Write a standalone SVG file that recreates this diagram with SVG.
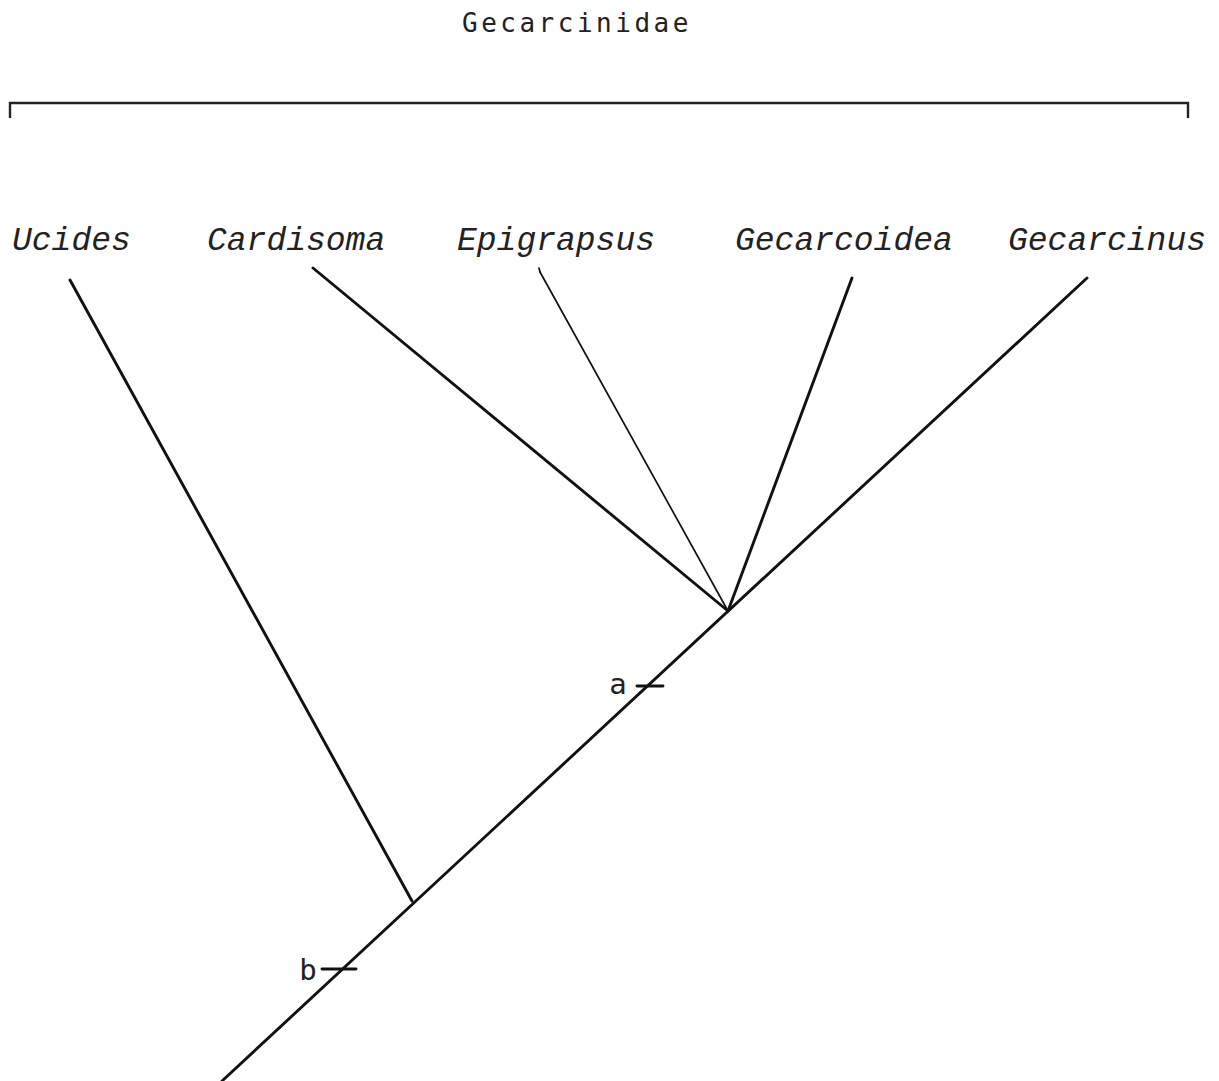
<svg xmlns="http://www.w3.org/2000/svg" width="1219" height="1081" viewBox="0 0 1219 1081">
<style>
.taxon{font-family:"Liberation Mono","Courier New",monospace;font-style:italic;font-size:33px;fill:#222}
.title{font-family:"DejaVu Sans Mono","Liberation Mono",monospace;font-size:26px;letter-spacing:3.5px;fill:#222}
.mark{font-family:"DejaVu Sans Mono","Liberation Mono",monospace;font-size:29px;fill:#222}
.ln{stroke:#111;stroke-width:2.9;fill:none;stroke-linecap:round}
.thin{stroke:#111;stroke-width:1.7;fill:none;stroke-linecap:round}
.br{stroke:#222;stroke-width:2.4;fill:none}
</style>
<rect width="1219" height="1081" fill="#ffffff"/>
<g id="title">
<text class="title" x="462" y="32">Gecarcinidae</text>
<polyline class="br" points="10,118 10,103 1188,103 1188,118"/>
</g>
<g id="node-ucides"><text class="taxon" x="12" y="250">Ucides</text></g>
<g id="node-cardisoma"><text class="taxon" x="207" y="250">Cardisoma</text></g>
<g id="node-epigrapsus"><text class="taxon" x="457" y="250">Epigrapsus</text></g>
<g id="node-gecarcoidea"><text class="taxon" x="735" y="250">Gecarcoidea</text></g>
<g id="node-gecarcinus"><text class="taxon" x="1008" y="250">Gecarcinus</text></g>
<g id="connectors">
<line class="ln" x1="70" y1="280" x2="412" y2="901"/>
<line class="ln" x1="313" y1="268" x2="728" y2="611"/>
<line class="thin" x1="540" y1="272" x2="728" y2="611"/>
<path class="thin" d="M540,272 L539,268"/>
<line class="ln" x1="852" y1="278" x2="728" y2="611"/>
<line class="ln" x1="1087" y1="278" x2="222" y2="1081"/>
<line class="ln" x1="637" y1="686" x2="663" y2="686"/>
<line class="ln" x1="322" y1="969" x2="356" y2="969"/>
</g>
<g id="mark-a"><text class="mark" x="618" y="694" text-anchor="middle">a</text></g>
<g id="mark-b"><text class="mark" x="308" y="980" text-anchor="middle">b</text></g>
</svg>
